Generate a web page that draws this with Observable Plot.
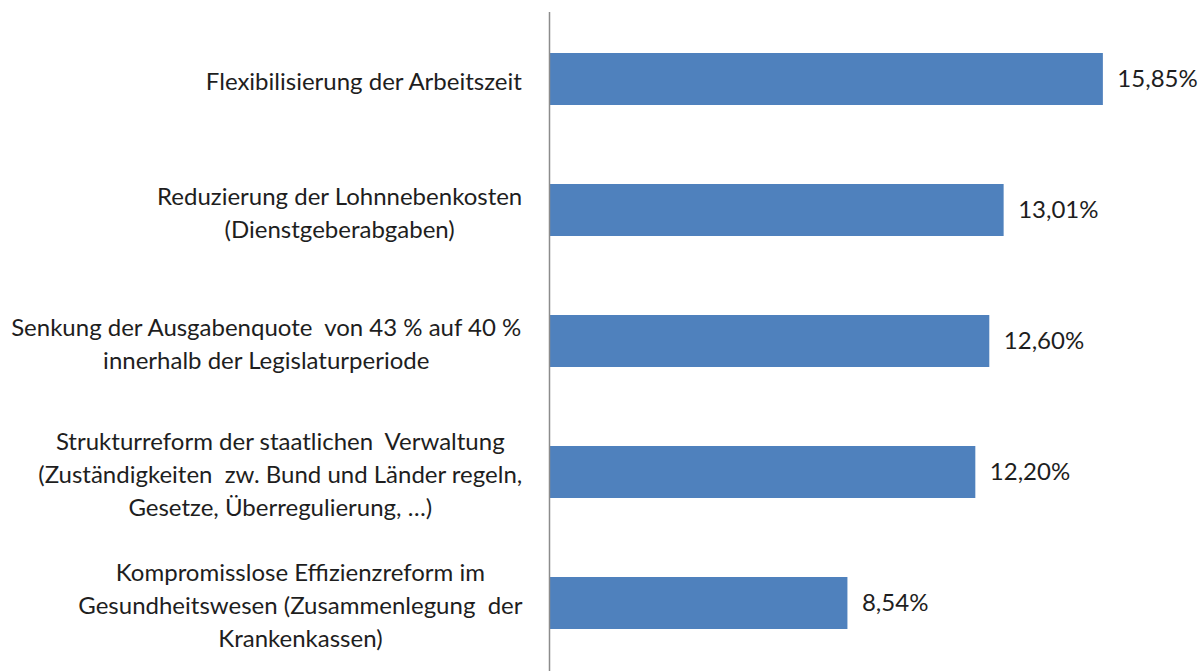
<!DOCTYPE html>
<html>
<head>
<meta charset="utf-8">
<script src="https://cdn.jsdelivr.net/npm/d3@7"></script>
<script src="https://cdn.jsdelivr.net/npm/@observablehq/plot@0.6"></script>
<style>
  html, body { margin: 0; padding: 0; background: #fff; }
  #chart { width: 1202px; height: 671px; }
</style>
</head>
<body>
<div id="chart"></div>
<script>
const categories = [
  "Flexibilisierung der Arbeitszeit",
  "Reduzierung der Lohnnebenkosten\n(Dienstgeberabgaben)",
  "Senkung der Ausgabenquote  von 43 % auf 40 %\ninnerhalb der Legislaturperiode",
  "Strukturreform der staatlichen  Verwaltung\n(Zuständigkeiten  zw. Bund und Länder regeln,\nGesetze, Überregulierung, …)",
  "Kompromisslose Effizienzreform im\nGesundheitswesen (Zusammenlegung  der\nKrankenkassen)"
];
const values = [15.85, 13.01, 12.60, 12.20, 8.54];

const data = categories.map((c, i) => ({category: c, value: values[i]}));

const FONT = "Lato";
const FS = 24;
const canvas = document.createElement("canvas");
const ctx = canvas.getContext("2d");
ctx.font = `${FS}px ${FONT}`;
const blockWidth = (s) => Math.max(...s.split("\n").map(l => ctx.measureText(l).width));

const fmt = (v) => v.toFixed(2).replace(".", ",") + "%";

const labelAxes = categories.map(c => Plot.axisY({
  ticks: [c],
  tickSize: 0,
  tickPadding: 0,
  textAnchor: "middle",
  dx: -(27 + blockWidth(c) / 2),
  lineHeight: 1.375,
  fontSize: FS,
  fill: "#1e1e1e",
  label: null
}));

const chart = Plot.plot({
  width: 1202,
  height: 671,
  marginLeft: 549,
  marginRight: 24,
  marginTop: 12,
  marginBottom: 0,
  style: {fontFamily: FONT, background: "#fff"},
  x: {domain: [0, 18], axis: null},
  y: {domain: categories, paddingInner: 0.6, paddingOuter: 0.3, axis: null},
  marks: [
    Plot.barX(data, {x: "value", y: "category", fill: "#4F81BD"}),
    Plot.text(data, {x: "value", y: "category", text: d => fmt(d.value), dx: 14, textAnchor: "start", fontSize: FS, fill: "#1e1e1e"}),
    ...labelAxes,
    Plot.ruleX([0], {stroke: "#8c8c8c", strokeWidth: 1.5})
  ]
});
document.getElementById("chart").appendChild(chart);
</script>
</body>
</html>
